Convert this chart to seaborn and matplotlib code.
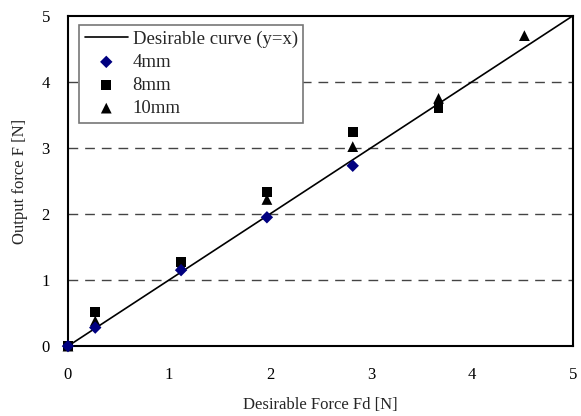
import matplotlib
matplotlib.use("Agg")
import matplotlib.pyplot as plt
import seaborn as sns
import pandas as pd

fd_4mm = [0.0, 0.27, 1.12, 1.97, 2.82]
f_4mm = [0.0, 0.28, 1.15, 1.95, 2.73]
fd_8mm = [0.0, 0.27, 1.12, 1.97, 2.82, 3.67]
f_8mm = [0.0, 0.52, 1.27, 2.33, 3.24, 3.60]
fd_10mm = [0.0, 0.27, 1.12, 1.97, 2.82, 3.67, 4.52]
f_10mm = [0.0, 0.38, 1.22, 2.22, 3.02, 3.75, 4.70]
ideal_x = [0.0, 5.0]
ideal_y = [0.0, 5.0]

sns.set_theme(style="white")
plt.rcParams['font.family'] = ['Liberation Serif', 'DejaVu Serif']

fig = plt.figure(figsize=(5.81, 4.16), dpi=100)
ax = fig.add_axes([0.117, 0.168, 0.869, 0.794])

ideal = pd.DataFrame({"x": ideal_x, "y": ideal_y})
sns.lineplot(data=ideal, x="x", y="y", ax=ax, color="black", lw=1.2,
             label="Desirable curve (y=x)", zorder=2)

d4 = pd.DataFrame({"x": fd_4mm, "y": f_4mm})
d8 = pd.DataFrame({"x": fd_8mm, "y": f_8mm})
d10 = pd.DataFrame({"x": fd_10mm, "y": f_10mm})
sns.scatterplot(data=d4, x="x", y="y", ax=ax, marker="D", color="#000080",
                s=40, edgecolor="none", label="4mm", zorder=5, clip_on=False)
sns.scatterplot(data=d8, x="x", y="y", ax=ax, marker="s", color="black",
                s=50, edgecolor="none", label="8mm", zorder=3, clip_on=False)
sns.scatterplot(data=d10, x="x", y="y", ax=ax, marker="^", color="black",
                s=60, edgecolor="none", label="10mm", zorder=4, clip_on=False)

ax.set_xlim(0, 5)
ax.set_ylim(0, 5)
ax.set_xticks([0, 1, 2, 3, 4, 5])
ax.set_yticks([0, 1, 2, 3, 4, 5])
for yv in [1, 2, 3, 4]:
    ax.axhline(yv, color="#444444", lw=1.0, ls=(0, (7, 5)), zorder=1)

for s in ax.spines.values():
    s.set_visible(True)
    s.set_color("black")
    s.set_linewidth(1.5)

ax.tick_params(axis="x", direction="in", length=5, width=1, colors="black",
               labelsize=12, pad=15)
ax.tick_params(axis="y", direction="inout", length=6, width=1, colors="black",
               labelsize=12, pad=10)
ax.set_xlabel("Desirable Force Fd [N]", fontsize=12, labelpad=10)
ax.set_ylabel("Output force F [N]", fontsize=12, labelpad=10)

leg = ax.legend(loc="upper left", bbox_to_anchor=(0.022, 0.973), fontsize=13.5,
                frameon=True, fancybox=False, edgecolor="#777777",
                framealpha=1, handlelength=2.3, handletextpad=0.25,
                labelspacing=0.32, borderpad=0.3, borderaxespad=0)
leg.get_frame().set_linewidth(1.2)

fig.savefig("out.png", dpi=100)
